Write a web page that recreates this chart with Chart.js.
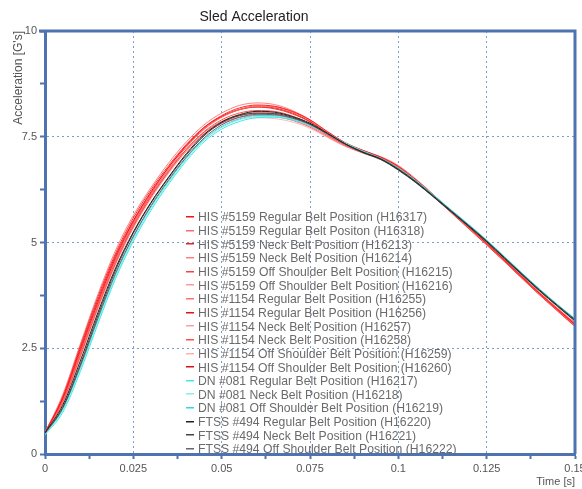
<!DOCTYPE html>
<html>
<head>
<meta charset="utf-8">
<script src="https://cdn.jsdelivr.net/npm/chart.js@4/dist/chart.umd.min.js"></script>
<style>
  html, body { margin: 0; padding: 0; background: #fff; }
  #wrap { width: 582px; height: 489px; }
</style>
</head>
<body>
<div id="wrap"><canvas id="sled-chart"></canvas></div>
<script>
// Sled acceleration traces, G's vs time (s)
const times = [0, 0.005, 0.01, 0.015, 0.02, 0.025, 0.03, 0.035, 0.04, 0.045, 0.05,
  0.055, 0.06, 0.065, 0.07, 0.075, 0.08, 0.085, 0.09, 0.095, 0.1,
  0.105, 0.11, 0.115, 0.12, 0.125, 0.13, 0.135, 0.14, 0.145, 0.15];

const labels = [
  'HIS #5159 Regular Belt Position (H16317)',
  'HIS #5159 Regular Belt Positon (H16318)',
  'HIS #5159 Neck Belt Position (H16213)',
  'HIS #5159 Neck Belt Position (H16214)',
  'HIS #5159 Off Shoulder Belt Position (H16215)',
  'HIS #5159 Off Shoulder Belt Position (H16216)',
  'HIS #1154 Regular Belt Position (H16255)',
  'HIS #1154 Regular Belt Position (H16256)',
  'HIS #1154 Neck Belt Position (H16257)',
  'HIS #1154 Neck Belt Position (H16258)',
  'HIS #1154 Off Shoulder Belt Position (H16259)',
  'HIS #1154 Off Shoulder Belt Position (H16260)',
  'DN #081 Regular Belt Position (H16217)',
  'DN #081 Neck Belt Position (H16218)',
  'DN #081 Off Shoulder Belt Position (H16219)',
  'FTSS #494 Regular Belt Position (H16220)',
  'FTSS #494 Neck Belt Position (H16221)',
  'FTSS #494 Off Shoulder Belt Position (H16222)'
];

const h16317 = [0.50,1.30,2.45,3.60,4.65,5.50,6.18,6.78,7.30,7.72,8.00,8.18,8.25,8.22,8.10,7.90,7.62,7.36,7.18,7.02,6.80,6.48,6.12,5.74,5.36,4.98,4.58,4.18,3.79,3.42,3.06];
const h16318 = [0.52,1.25,2.38,3.55,4.60,5.45,6.14,6.73,7.25,7.67,7.96,8.14,8.22,8.20,8.08,7.88,7.60,7.34,7.16,7.00,6.78,6.46,6.10,5.72,5.34,4.96,4.56,4.16,3.77,3.40,3.04];
const h16213 = [0.50,1.35,2.55,3.72,4.75,5.58,6.25,6.82,7.32,7.72,7.98,8.14,8.20,8.16,8.04,7.85,7.58,7.33,7.15,6.99,6.76,6.44,6.08,5.70,5.32,4.94,4.55,4.15,3.76,3.39,3.02];
const h16214 = [0.49,1.28,2.42,3.58,4.62,5.46,6.15,6.74,7.26,7.68,7.97,8.15,8.23,8.21,8.09,7.89,7.61,7.35,7.17,7.01,6.79,6.47,6.11,5.73,5.35,4.97,4.57,4.17,3.78,3.41,3.05];
const h16215 = [0.51,1.22,2.32,3.48,4.52,5.38,6.08,6.68,7.20,7.62,7.90,8.06,8.12,8.10,7.99,7.80,7.54,7.30,7.13,6.98,6.76,6.45,6.10,5.73,5.36,4.99,4.60,4.20,3.81,3.44,3.09];
const h16216 = [0.50,1.18,2.28,3.44,4.48,5.34,6.04,6.64,7.16,7.58,7.86,8.02,8.08,8.06,7.96,7.78,7.53,7.30,7.14,6.99,6.77,6.46,6.11,5.74,5.37,5.00,4.61,4.21,3.82,3.45,3.10];
const h16255 = [0.50,1.40,2.60,3.78,4.82,5.64,6.30,6.88,7.38,7.78,8.06,8.24,8.30,8.26,8.12,7.90,7.60,7.34,7.17,7.03,6.82,6.50,6.13,5.74,5.35,4.96,4.56,4.16,3.76,3.38,3.01];
const h16256 = [0.51,1.33,2.50,3.66,4.70,5.52,6.20,6.78,7.28,7.69,7.97,8.14,8.21,8.18,8.06,7.86,7.58,7.33,7.16,7.01,6.79,6.47,6.11,5.73,5.35,4.97,4.57,4.17,3.78,3.41,3.05];
const h16257 = [0.49,1.20,2.30,3.45,4.50,5.36,6.06,6.66,7.18,7.59,7.86,8.00,8.04,8.01,7.92,7.75,7.51,7.29,7.13,6.98,6.76,6.45,6.10,5.73,5.36,4.99,4.60,4.20,3.81,3.45,3.10];
const h16258 = [0.50,1.24,2.36,3.52,4.56,5.40,6.08,6.66,7.16,7.56,7.82,7.96,8.00,7.98,7.89,7.73,7.50,7.28,7.12,6.97,6.75,6.44,6.09,5.72,5.35,4.98,4.59,4.19,3.80,3.43,3.08];
const h16259 = [0.50,1.30,2.46,3.62,4.66,5.48,6.14,6.70,7.18,7.56,7.80,7.92,7.95,7.93,7.85,7.70,7.48,7.27,7.11,6.96,6.74,6.43,6.08,5.71,5.34,4.97,4.58,4.18,3.79,3.42,3.07];
const h16260 = [0.50,1.26,2.40,3.56,4.60,5.44,6.12,6.70,7.20,7.60,7.86,8.00,8.05,8.03,7.93,7.76,7.52,7.30,7.14,6.99,6.77,6.46,6.10,5.72,5.34,4.96,4.57,4.17,3.78,3.41,3.05];
const h16217 = [0.45,0.98,1.95,3.08,4.15,5.03,5.76,6.38,6.93,7.38,7.68,7.86,7.95,7.96,7.90,7.77,7.57,7.35,7.16,6.99,6.76,6.46,6.12,5.77,5.42,5.06,4.67,4.28,3.90,3.54,3.20];
const h16218 = [0.46,1.02,2.00,3.13,4.20,5.08,5.80,6.42,6.97,7.42,7.72,7.90,7.98,7.98,7.91,7.77,7.56,7.34,7.15,6.98,6.74,6.45,6.11,5.76,5.41,5.05,4.66,4.27,3.89,3.53,3.19];
const h16219 = [0.47,1.05,2.04,3.18,4.24,5.12,5.84,6.45,7.00,7.44,7.74,7.92,8.00,8.00,7.93,7.79,7.57,7.34,7.14,6.97,6.73,6.43,6.09,5.74,5.39,5.03,4.64,4.25,3.87,3.51,3.16];
const h16220 = [0.50,1.15,2.20,3.35,4.40,5.25,5.95,6.55,7.10,7.55,7.85,8.02,8.10,8.08,7.98,7.82,7.58,7.33,7.13,6.97,6.72,6.42,6.08,5.73,5.38,5.02,4.63,4.24,3.86,3.50,3.15];
const h16221 = [0.50,1.10,2.12,3.28,4.35,5.22,5.93,6.53,7.07,7.52,7.83,8.00,8.06,8.05,7.96,7.80,7.57,7.33,7.14,6.98,6.74,6.44,6.10,5.75,5.40,5.04,4.65,4.26,3.88,3.52,3.18];
const h16222 = [0.48,1.08,2.08,3.22,4.28,5.15,5.87,6.48,7.02,7.47,7.78,7.96,8.03,8.02,7.94,7.79,7.56,7.32,7.12,6.96,6.71,6.41,6.07,5.72,5.37,5.01,4.62,4.23,3.85,3.49,3.14];

const series = [h16317, h16318, h16213, h16214, h16215, h16216, h16255, h16256,
  h16257, h16258, h16259, h16260, h16217, h16218, h16219, h16220, h16221, h16222];

const colors = ['#ff1010', '#ff6a6a', '#f02020', '#ff8080', '#ff4040', '#ff9a9a',
  '#ff7070', '#e81010', '#ffa0a0', '#ff5050', '#ffb0b0', '#dd1010',
  '#40e8e8', '#80f0f0', '#30d8e0', '#222222', '#444444', '#666666'];

const AXIS_BLUE = '#4f72b0';
const GRID_BLUE = '#7f9cc9';
const FONT = "'Liberation Sans', Arial, sans-serif";

const datasets = series.map((vals, i) => ({
  label: labels[i],
  data: times.map((t, j) => ({ x: t, y: vals[j] })),
  borderColor: colors[i],
  borderWidth: i < 12 ? 0.9 : 1,
  pointRadius: 0,
  cubicInterpolationMode: 'monotone',
  order: i >= 15 ? 0 : (i >= 12 ? 1 : 2)
}));

// title + frame + in-plot legend
const decorPlugin = {
  id: 'decor',
  afterDatasetsDraw(chart) {
    const { ctx, chartArea: a } = chart;
    ctx.save();
    ctx.strokeStyle = AXIS_BLUE;
    ctx.lineWidth = 3;
    ctx.beginPath();
    ctx.moveTo(a.left - 6, a.top);
    ctx.lineTo(a.right, a.top);
    ctx.lineTo(a.right, a.bottom);
    ctx.stroke();
    ctx.restore();
  },
  afterDraw(chart) {
    const { ctx } = chart;
    ctx.save();
    ctx.font = '14px ' + FONT;
    ctx.fillStyle = '#222';
    ctx.textAlign = 'center';
    ctx.textBaseline = 'middle';
    ctx.fillText('Sled Acceleration', 254, 17);

    ctx.font = '12.2px ' + FONT;
    ctx.textAlign = 'left';
    chart.data.datasets.forEach((ds, i) => {
      const y = 217 + i * 13.65;
      ctx.fillStyle = ds.borderColor;
      ctx.fillRect(186, Math.round(y) - 1, 8, 1.5);
      ctx.fillStyle = '#6a6a6a';
      ctx.fillText(ds.label, 198, y + 1);
    });
    ctx.restore();
  }
};

function isMajor(v, step) {
  return Math.round(v / step) % 2 === 0;
}

new Chart(document.getElementById('sled-chart'), {
  type: 'line',
  data: { datasets },
  options: {
    responsive: true,
    maintainAspectRatio: false,
    animation: false,
    layout: { padding: { top: 31, right: 7, left: 0, bottom: 0 } },
    plugins: {
      legend: { display: false },
      tooltip: { enabled: false }
    },
    scales: {
      x: {
        type: 'linear',
        min: 0,
        max: 0.15,
        ticks: {
          stepSize: 0.0125,
          autoSkip: false,
          maxRotation: 0,
          padding: 3,
          color: '#555',
          font: { family: FONT, size: 11 },
          callback: v => isMajor(v, 0.0125) ? String(Math.round(v * 1000) / 1000) : ''
        },
        grid: {
          color: c => (c.tick && isMajor(c.tick.value, 0.0125) && c.tick.value > 0.001 && c.tick.value < 0.149) ? GRID_BLUE : 'rgba(0,0,0,0)',
          lineWidth: 1,
          tickColor: AXIS_BLUE,
          tickLength: 5,
          tickWidth: 2,
          tickBorderDash: []
        },
        border: { color: AXIS_BLUE, width: 3, dash: [2, 3] },
        title: {
          display: true,
          text: 'Time [s]',
          align: 'end',
          color: '#555',
          font: { family: FONT, size: 11 },
          padding: { top: 0, bottom: 0 }
        },
        afterFit(scale) {
          scale.height = 35;
          scale.paddingRight = 0;
          scale.paddingLeft = 0;
        }
      },
      y: {
        min: 0,
        max: 10,
        ticks: {
          stepSize: 1.25,
          autoSkip: false,
          padding: 3,
          color: '#555',
          font: { family: FONT, size: 11 },
          callback: v => isMajor(v, 1.25) ? String(v) : ''
        },
        grid: {
          color: c => (c.tick && isMajor(c.tick.value, 1.25) && c.tick.value > 0.01 && c.tick.value < 9.99) ? GRID_BLUE : 'rgba(0,0,0,0)',
          lineWidth: 1,
          tickColor: AXIS_BLUE,
          tickLength: 5,
          tickWidth: 2,
          tickBorderDash: []
        },
        border: { color: AXIS_BLUE, width: 3, dash: [2, 3] },
        title: {
          display: true,
          text: "Acceleration [G's]",
          align: 'end',
          color: '#555',
          font: { family: FONT, size: 12 },
          padding: { top: 11, bottom: 0 }
        },
        afterFit(scale) {
          scale.width = 45;
        }
      }
    }
  },
  plugins: [decorPlugin]
});
</script>
</body>
</html>
